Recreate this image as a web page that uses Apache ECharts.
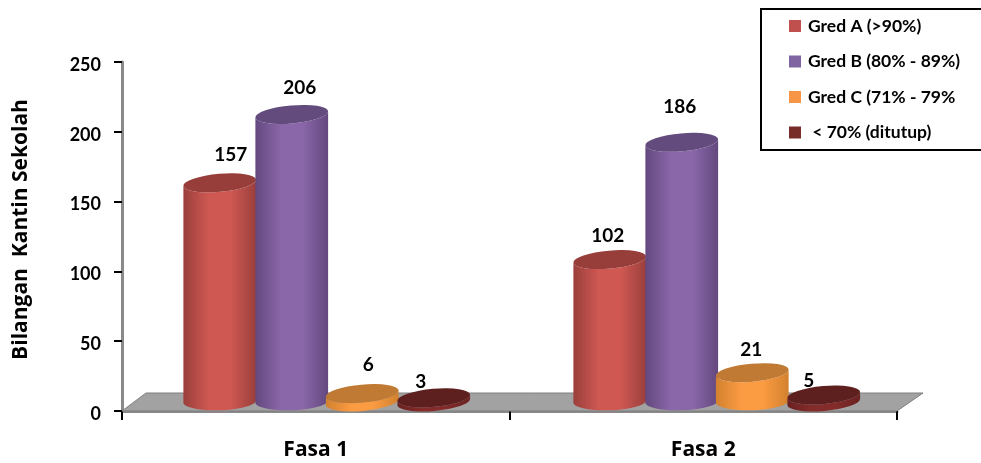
<!DOCTYPE html>
<html>
<head>
<meta charset="utf-8">
<style>html,body{margin:0;padding:0;background:#fff}#c{width:981px;height:463px}</style>
<script src="https://cdn.jsdelivr.net/npm/echarts@6/dist/echarts.min.js"></script>
</head>
<body>
<div id="c"></div>
<script>
const categories = ['Fasa 1', 'Fasa 2'];
const gredA = [157, 102];
const gredB = [206, 186];
const gredC = [6, 21];
const ditutup = [3, 5];
const seriesNames = ['Gred A (>90%)', 'Gred B (80% - 89%)', 'Gred C (71% - 79%', ' < 70% (ditutup)'];
const yTicks = { min: 0, max: 250, step: 50 };
const yTitle = 'Bilangan  Kantin Sekolah';

const FONT = 'Lato';
const WIDE_FONT = '"Open Sans"';
const LIFT = 9, RX = 36.5, RY = 9, TILT = 5, BASE_TILT = 2;
const rad = d => d * Math.PI / 180;
const shifts = [-96, -24, 46.5, 118];
const categoryShift = [0, 2.5];
const labelNudge = [
  [[11, -28], [-2, -24]],
  [[8, -27], [-2, -35]],
  [[6, -29], [-1, -23]],
  [[-13, -16], [-15, -14]]
];
const looks = [
  { base: '#c0504d', edge: '#9a3f3c', mid: '#cf5852', top: '#973d3a' },
  { base: '#8064a2', edge: '#63487e', mid: '#8a67a9', top: '#634b7d' },
  { base: '#f79646', edge: '#d2812f', mid: '#fb9b42', top: '#c07a33' },
  { base: '#772c2a', edge: '#6a2220', mid: '#842c2b', top: '#5e1f1f' }
];

function cylinder(s) {
  return function (params, api) {
    const i = api.value(0), v = api.value(1);
    const top = api.coord([i, v]), zero = api.coord([i, 0]);
    const cx = top[0] + shifts[s] + categoryShift[i], ty = top[1] - LIFT, by = zero[1] - LIFT;
    const dx = RX * Math.cos(rad(TILT)), dy = RX * Math.sin(rad(TILT));
    const tall = v > 10;
    const bt = tall ? BASE_TILT : TILT;
    const bdy = RX * Math.sin(rad(bt));
    const arc = 'A' + RX + ' ' + RY + ' ' + (-TILT) + ' ';
    const baseArc = 'A' + RX + ' ' + RY + ' ' + (-bt) + ' ';
    const body = 'M' + (cx - dx) + ' ' + (ty + dy) + 'L' + (cx - dx) + ' ' + (by + bdy) +
      baseArc + '0 0 ' + (cx + dx) + ' ' + (by - bdy) + 'L' + (cx + dx) + ' ' + (ty - dy) +
      arc + '0 1 ' + (cx - dx) + ' ' + (ty + dy) + 'Z';
    const cap = 'M' + (cx - dx) + ' ' + (ty + dy) + arc + '1 1 ' + (cx + dx) + ' ' + (ty - dy) +
      arc + '1 1 ' + (cx - dx) + ' ' + (ty + dy) + 'Z';
    const c = looks[s], n = labelNudge[s][i];
    return {
      type: 'group',
      children: [
        { type: 'path', shape: { pathData: body },
          style: { fill: new echarts.graphic.LinearGradient(0, 0, 1, 0, [
            { offset: 0, color: c.edge }, { offset: 0.35, color: c.mid },
            { offset: 0.65, color: c.mid }, { offset: 1, color: c.edge }]) } },
        { type: 'path', shape: { pathData: cap }, style: { fill: c.top } },
        { type: 'text', z2: 100, x: cx + n[0], y: ty + n[1],
          style: { text: String(v), fill: '#000', font: 'bold 19px ' + FONT, align: 'center', verticalAlign: 'middle' } }
      ]
    };
  };
}

function floor(params, api) {
  const a = api.coord([0, 0]);
  const cs = params.coordSys;
  const x0 = cs.x, x1 = cs.x + cs.width, y = a[1];
  return {
    type: 'polygon',
    shape: { points: [[x0, y], [x0 + 24, y - 18], [x1 + 26, y - 18], [x1, y]] },
    style: { fill: '#a2a2a2', stroke: '#7f7f7f', lineWidth: 1 }
  };
}

const cylSeries = [gredA, gredB, gredC, ditutup].map((vals, s) => ({
  name: seriesNames[s],
  type: 'custom',
  coordinateSystem: 'cartesian2d',
  itemStyle: { color: looks[s].base },
  encode: { x: 0, y: 1 },
  data: vals.map((v, i) => [i, v]),
  renderItem: cylinder(s),
  clip: false
}));

const chart = echarts.init(document.getElementById('c'), null, { renderer: 'canvas' });
chart.setOption({
  animation: false,
  backgroundColor: '#fff',
  color: looks.map(l => l.base),
  grid: { left: 122, right: 84, top: 62, bottom: 52, containLabel: false },
  legend: {
    orient: 'vertical', left: 761, top: 9,
    padding: [8, 50, 8.5, 28],
    itemWidth: 12, itemHeight: 12, itemGap: 17.5,
    borderColor: '#000', borderWidth: 2, backgroundColor: '#fff',
    icon: 'rect',
    data: seriesNames,
    textStyle: { color: '#000', fontFamily: FONT, fontWeight: 'bold', fontSize: 17.5, padding: [0, 0, 0, 2] }
  },
  xAxis: {
    type: 'category', data: categories,
    axisLine: { lineStyle: { color: '#8a8a8a', width: 3 } },
    axisTick: { show: true, length: 9, lineStyle: { color: '#000', width: 2 } },
    axisLabel: { color: '#000', fontFamily: WIDE_FONT, fontWeight: 'bold', fontSize: 21, margin: 29 },
    splitLine: { show: false }
  },
  yAxis: {
    type: 'value', min: yTicks.min, max: yTicks.max, interval: yTicks.step,
    name: yTitle, nameLocation: 'middle', nameGap: 90,
    nameTextStyle: { color: '#000', fontFamily: WIDE_FONT, fontWeight: 'bold', fontSize: 21, padding: [0, 0, 0, 14] },
    axisLine: { show: true, lineStyle: { color: '#8a8a8a', width: 3 } },
    axisTick: { show: true, length: 8, lineStyle: { color: '#000', width: 2 } },
    axisLabel: { color: '#000', fontFamily: FONT, fontWeight: 'bold', fontSize: 18, margin: 21, verticalAlign: 'top', lineHeight: 6 },
    splitLine: { show: false }
  },
  series: [{
    name: 'lantai', type: 'custom', coordinateSystem: 'cartesian2d', silent: true,
    encode: { x: 0, y: 1 }, data: [[0, 0]], renderItem: floor, clip: false
  }].concat(cylSeries)
});
</script>
</body>
</html>
